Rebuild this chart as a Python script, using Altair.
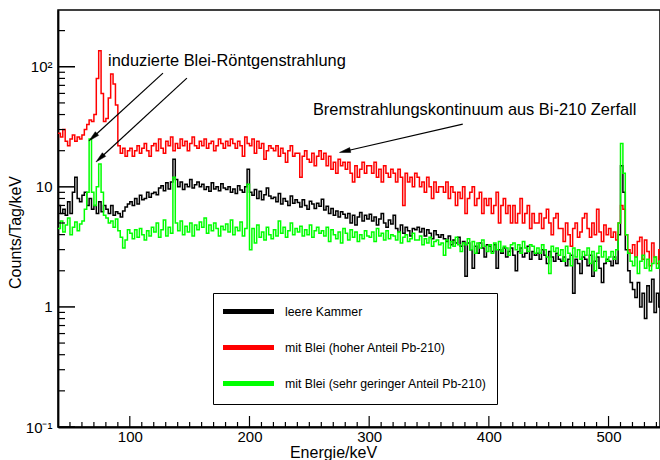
import altair as alt
import pandas as pd

# Energy bins (keV), 2 keV wide
energy = list(range(40, 545, 2))

# Count rates in counts/day/keV
leere_kammer = [
    7, 6, 6.5, 5.8, 7.5, 6, 9, 12, 8, 7.5,
    8.5, 9, 7, 8, 6.5, 7, 6, 7.5, 6.2, 7,
    6.5, 6, 7, 5.8, 6.2, 6, 5.6, 6.3, 6.8, 7.2,
    7.5, 7, 8, 7.2, 8.5, 7.8, 8, 9, 8.2, 8.8,
    9, 8.6, 9.8, 10.2, 9.3, 10.8, 9.6, 11, 17, 11.5,
    10, 11, 9.5, 10.5, 10, 11.5, 9.8, 10.4, 11, 10,
    10.5, 9.5, 10, 9.2, 10.8, 9.6, 10, 9.3, 10.6, 9.8,
    9.5, 10, 9, 9.6, 8.8, 10.2, 9.4, 9, 10, 14,
    9, 8.5, 9.5, 8, 9.2, 7.8, 8.6, 9.8, 8.4, 8,
    8.2, 7.5, 8.8, 7.2, 8, 7.6, 7, 8.4, 7.3, 7.8,
    7.4, 6.8, 7.8, 7, 6.5, 7.6, 7.2, 6.6, 7.3, 6.9,
    7.9, 6.4, 6.9, 6, 6.6, 5.8, 6.3, 5.6, 6.2, 5.9,
    5.5, 6, 5, 5.8, 4.8, 5.6, 6.1, 5.2, 5.8, 5.4,
    5.9, 5.2, 5.6, 4.8, 5.4, 6, 5, 4.6, 5.3, 4.9,
    5.8, 4.5, 4.2, 4.8, 4.1, 4.6, 4.3, 3.9, 4.5, 4.4,
    4.6, 4.2, 4.5, 3.9, 4.4, 4.1, 3.7, 4.3, 4, 3.8,
    4, 3.7, 3.5, 3.9, 3.3, 3.6, 3.4, 3.8, 3.2, 3.5,
    1.8, 3.4, 3, 2.1, 3.2, 2.8, 3.4, 3.1, 2.6, 3.3,
    3.2, 2.9, 3.3, 2.1, 3, 2.8, 3.1, 2.6, 2.9, 3.1,
    2.7, 2, 2.9, 3.1, 2.6, 2.8, 3.2, 2.5, 2.9, 2.7,
    2.8, 2.5, 3, 2.7, 2.3, 2.9, 2.6, 2.4, 2.8, 2.5,
    2.4, 2.6, 2.2, 2.5, 2.7, 1.3, 2.5, 2.3, 1.9, 2.6,
    2.5, 2.2, 2.7, 1.8, 2.4, 2.6, 2.1, 1.6, 2.3, 2.5,
    2.4, 2.2, 2.6, 2.3, 4, 15, 9, 3, 2, 1.6,
    1.4, 1.2, 1.6, 1.0, 1.3, 0.8, 1.5, 1.1, 1.7, 0.9,
    1.3, 1.0, 1.4,
]

blei_hoch = [
    28, 26, 30, 24, 22, 25, 27, 24, 26, 25,
    27, 30, 33, 36, 35, 40, 80, 136, 60, 35,
    37, 55, 87, 72, 48, 22, 19, 21, 18, 20,
    21, 18, 20, 22, 19, 21, 23, 20, 18, 22,
    23, 20, 25, 21, 19, 24, 22, 26, 20, 23,
    21, 25, 22, 24, 20, 23, 26, 22, 21, 24,
    22, 25, 21, 23, 24, 20, 22, 25, 23, 21,
    24, 22, 25, 23, 21, 24, 22, 18, 26, 23,
    22, 25, 19, 24, 21, 23, 17, 20, 22, 21,
    20, 22, 18, 21, 19, 16, 20, 22, 18, 19,
    19, 12, 18, 20, 17, 16, 19, 15, 18, 20,
    17, 19, 15, 18, 14, 16, 13, 17, 15, 16,
    14, 16, 13, 11, 15, 12, 14, 16, 13, 15,
    15, 13, 16, 12, 14, 11, 15, 13, 12, 14,
    13, 11, 14, 12, 7, 13, 11, 12, 10, 13,
    12, 10, 11, 9, 12, 10, 8, 11, 9, 10,
    10, 9, 11, 8, 10, 9, 7, 9, 8, 10,
    6, 8, 9, 10, 7, 8, 9, 6, 8, 7,
    8, 6, 7, 9, 5, 7, 8, 6, 7, 5,
    7, 5, 6, 8, 5, 6, 7, 4.5, 6, 5,
    5, 6, 4.5, 5.5, 6.5, 5, 4, 5.5, 6, 4.5,
    4.5, 3.5, 5, 4, 3.2, 4.5, 5, 3.8, 4.2, 5.5,
    6, 4.5, 3.8, 5, 4, 6.5, 4.2, 3.5, 4.8, 4,
    4.5, 3.8, 4.2, 3.6, 5, 7, 6.5, 4, 3, 2.8,
    3.3, 2.6, 3.5, 3.8, 2.5, 3.6, 2.9, 2.2, 3.4, 2.6,
    2.3, 3.0, 2.5,
]

blei_gering = [
    4.5, 5.2, 4.2, 4.8, 5.5, 4, 4.6, 5.1, 4.3, 4.9,
    5.2, 6.5, 9, 25, 9, 7, 10, 15.5, 9, 5.8,
    5.5, 5, 5.2, 4.6, 5.4, 4.3, 3.8, 3.1, 3.6, 4.4,
    4.1, 3.7, 4.4, 3.8, 4.5, 4, 3.6, 4.3, 3.9, 4.6,
    4.2, 5, 3.8, 4.4, 5.3, 3.9, 4.6, 4.1, 12, 5,
    4.3, 5.2, 4, 4.7, 4.2, 5, 3.9, 4.8, 4.4, 5.1,
    4.6, 5.5, 4.1, 4.8, 4.3, 5, 4.5, 3.9, 4.7, 4.4,
    4.9, 4.2, 5.3, 4, 4.6, 4.3, 5.1, 3.9, 4.5, 10.5,
    3, 4.5, 3.4, 4.8, 3.8, 4.2, 3.6, 4.6, 4, 3.7,
    4.4, 3.9, 5.2, 4.1, 4.6, 3.8, 4.3, 5, 4, 4.5,
    4.2, 4.7, 3.9, 4.4, 4, 4.8, 3.8, 4.3, 4.6, 4.1,
    4.3, 3.9, 4.6, 3.5, 4.4, 4, 3.7, 4.2, 3.4, 4.5,
    4.1, 3.6, 4.4, 3.8, 4.2, 3.5, 4, 3.7, 4.3, 3.9,
    3.8, 4.2, 3.5, 4.5, 3.9, 4.1, 3.6, 4.3, 3.7, 4,
    3.9, 3.6, 4.2, 3.4, 3.8, 4, 3.5, 3.7, 4.1, 3.6,
    3.6, 3.9, 3.3, 3.7, 3.4, 3.8, 3.2, 3.5, 3.6, 3.3,
    3.4, 2.7, 3.6, 3.1, 3.5, 3.2, 3.8, 3.3, 2.9, 3.4,
    3.3, 3.7, 3, 3.5, 2.8, 3.4, 3.1, 3.6, 3.2, 2.9,
    3.3, 2.8, 3.4, 3, 3.5, 2.9, 3.2, 3.1, 2.7, 3.3,
    3.4, 3, 3.3, 2.8, 3.5, 3.1, 2.9, 3.3, 3.2, 2.8,
    3.1, 2.8, 3.3, 3, 2.6, 1.9, 3.2, 2.9, 3.1, 2.7,
    3, 2.4, 3.2, 2.8, 2.2, 3.1, 2.6, 3, 2.5, 2.9,
    2.7, 3.1, 2.3, 2.9, 2, 2.8, 3.2, 2.6, 2.9, 2.4,
    2.6, 2.9, 2.5, 3, 5, 23, 13, 4, 2.8, 2.4,
    2.2, 2.6, 1.9, 2.4, 2.7, 2.1, 2.5, 2, 2.3, 2.6,
    2.1, 2.4, 2.2,
]

series_names = [
    "leere Kammer",
    "mit Blei (hoher Anteil Pb-210)",
    "mit Blei (sehr geringer Anteil Pb-210)",
]
series_colors = ["#000000", "#ff0000", "#00ff00"]

# Axis ticks
x_major = [100, 200, 300, 400, 500]
x_minor = [v for v in range(50, 545, 10) if v not in x_major]
y_major = [0.1, 1, 10, 100]
y_minor = [0.2, 0.3, 0.4, 0.5, 0.6, 0.7, 0.8, 0.9,
           2, 3, 4, 5, 6, 7, 8, 9,
           20, 30, 40, 50, 60, 70, 80, 90, 200]

# Annotations: arrows (tail -> head) and labels, in data units
arrow_x1 = [127.7, 147.7, 378.2]
arrow_y1 = [88.6, 80.5, 33.3]
arrow_x2 = [69.2, 75.1, 279.7]
arrow_y2 = [25.9, 17.3, 19.8]
arrow_angle = [227.6, 227.4, 257.1]
label_text = ["induzierte Blei-Röntgenstrahlung",
              "Bremstrahlungskontinuum aus Bi-210 Zerfall"]
label_x = [81.8, 253]
label_y = [111.6, 44]

W, H = 602, 417
FONT = "Liberation Sans"

x_scale = alt.Scale(domain=[40, 543], nice=False, zero=False)
y_scale = alt.Scale(type="log", domain=[0.1, 297], nice=False)
color_scale = alt.Scale(domain=series_names, range=series_colors)

legend = alt.Legend(
    title=None, orient="none", legendX=155, legendY=283,
    strokeColor="black", fillColor="white", padding=10,
    symbolType="M-4.25,0H4.25", symbolSize=144, symbolStrokeWidth=5,
    symbolOffset=17, labelOffset=28, rowPadding=15,
    labelFont=FONT, labelFontSize=12.3, labelColor="black", labelLimit=400,
)

x_axis = alt.Axis(values=x_major, format="d", title="Energie/keV",
                  labelPadding=2, titlePadding=0, titleX=275)
y_axis = alt.Axis(values=y_major, title="Counts/Tag/keV", labelPadding=6,
                  titlePadding=2, titleY=222,
                  labelExpr="datum.value >= 100 ? '10²' : datum.value >= 10 ? '10' : datum.value >= 1 ? '1' : '10⁻¹'")


def X(field):
    return alt.X(field, scale=x_scale, axis=x_axis)


def Y(field):
    return alt.Y(field, scale=y_scale, axis=y_axis)


def spectrum(values, name):
    df = pd.DataFrame({"Energie": energy, "Rate": values, "Serie": name})
    return alt.Chart(df).mark_line(interpolate="step-after", strokeWidth=1.5, clip=True).encode(
        x=X("Energie:Q"), y=Y("Rate:Q"),
        color=alt.Color("Serie:N", scale=color_scale, legend=legend),
    )


lines = [spectrum(v, n) for v, n in zip([leere_kammer, blei_hoch, blei_gering], series_names)]

# Inward tick marks
xt_major = alt.Chart(pd.DataFrame({"Energie": x_major})).mark_rule(color="black", strokeWidth=1.2).encode(
    x=X("Energie:Q"), y=alt.value(H), y2=alt.value(H - 11))
xt_minor = alt.Chart(pd.DataFrame({"Energie": x_minor})).mark_rule(color="black", strokeWidth=1.2).encode(
    x=X("Energie:Q"), y=alt.value(H), y2=alt.value(H - 5))
yt_major = alt.Chart(pd.DataFrame({"Rate": y_major})).mark_rule(color="black", strokeWidth=1.5).encode(
    y=Y("Rate:Q"), x=alt.value(0), x2=alt.value(17))
yt_minor = alt.Chart(pd.DataFrame({"Rate": y_minor})).mark_rule(color="black", strokeWidth=1.2).encode(
    y=Y("Rate:Q"), x=alt.value(0), x2=alt.value(7))

arrow_lines = alt.Chart(pd.DataFrame({"Energie": arrow_x1, "Rate": arrow_y1,
                                      "e2": arrow_x2, "r2": arrow_y2})).mark_rule(
    color="black", strokeWidth=1.2).encode(
    x=X("Energie:Q"), y=Y("Rate:Q"), x2="e2:Q", y2="r2:Q")
arrow_heads = alt.Chart(pd.DataFrame({"Energie": arrow_x2, "Rate": arrow_y2,
                                      "rot": arrow_angle})).mark_point(
    shape="M0,-1L0.45,1L-0.45,1Z", filled=True, fill="black", stroke="black",
    strokeWidth=0.5, size=120, opacity=1).encode(
    x=X("Energie:Q"), y=Y("Rate:Q"), angle=alt.Angle("rot:Q", scale=None))

labels = alt.Chart(pd.DataFrame({"Energie": label_x, "Rate": label_y, "t": label_text})).mark_text(
    align="left", baseline="middle", font=FONT, fontSize=16.4, color="black").encode(
    x=X("Energie:Q"), y=Y("Rate:Q"), text="t:N")

chart = alt.layer(
    *lines, xt_major, xt_minor, yt_major, yt_minor, arrow_lines, arrow_heads, labels
).properties(
    width=W, height=H,
    autosize=alt.AutoSizeParams(type="none"),
    padding={"left": 58, "top": 10, "right": 0, "bottom": 33},
).configure_view(
    stroke="black", strokeWidth=1.5
).configure_axis(
    labelFont=FONT, titleFont=FONT, labelFontSize=15, titleFontSize=16,
    titleFontWeight="normal", labelColor="black", titleColor="black",
    grid=False, ticks=False, domainColor="black", domainWidth=1.8,
)

chart.save("out.html", embed_options={"renderer": "svg", "actions": False})
